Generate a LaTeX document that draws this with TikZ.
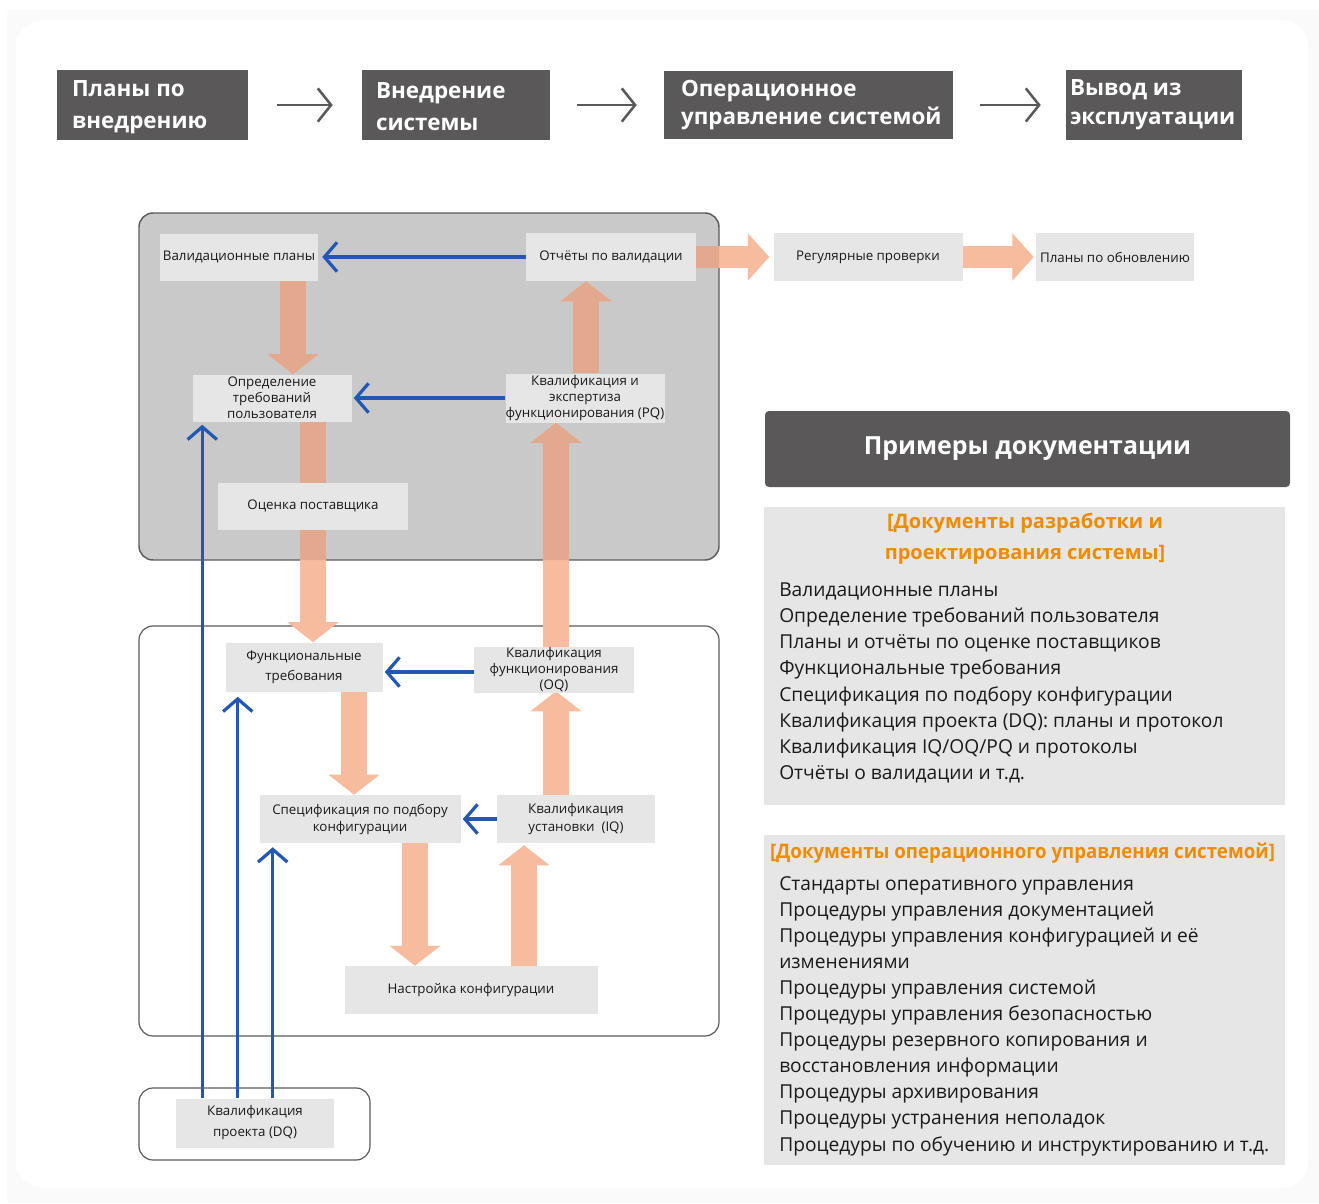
\documentclass[tikz,border=0pt]{standalone}
\usepackage{fontspec}
\setmainfont{Open Sans}
\usepackage{graphicx}
\usetikzlibrary{arrows.meta,calc}
\pgfdeclarelayer{bg}
\pgfdeclarelayer{arr}
\pgfsetlayers{bg,arr,main}
\definecolor{hdr}{HTML}{5A5858}
\definecolor{boxg}{HTML}{E6E6E6}
\definecolor{grayarea}{HTML}{C9C9C9}
\definecolor{orl}{HTML}{F7BB9E}
\definecolor{ord}{HTML}{E2A98F}
\definecolor{blu}{HTML}{2257B4}
\definecolor{ttl}{HTML}{F08C00}
\definecolor{txt}{HTML}{1A1A1A}
\definecolor{frame}{HTML}{5C5C5C}
\newcommand\myoarrows{%
\draw[oarrow] ($(vp.south)+(54,0)$) -- ($(otp.north)+(21,0)$);
\draw[oarrow] ($(otp.south)+(41,0)$) -- ($(ft.north)+(9,0)$);
\draw[oarrow] ($(ft.south)+(50,0)$) -- ($(sp.north)+(-6,0)$);
\draw[oarrow] ($(sp.south)+(55,0)$) -- ($(nk.north)+(-56,0)$);
\draw[oarrow] ($(nk.north)+(53,0)$) -- ($(iq.south)+(-52,2)$);
\draw[oarrow] ($(iq.north)+(-20,0)$) -- ($(oq.south)+(2,-2)$);
\draw[oarrow] ($(oq.north)+(2,0)$) -- ($(pq.south)+(-29,0)$);
\draw[oarrow] ($(pq.north)+(1,0)$) -- ($(ov.south)+(-25,0)$);
\draw[harrow] (ov.east) -- ($(rp.west)+(-4,0)$);
\draw[harrow] (rp.east) -- ($(po.west)+(-2,0)$);
}
\begin{document}
\begin{tikzpicture}[x=0.75pt,y=-0.75pt,
 hbox/.style={fill=hdr, inner sep=0pt},
 htext/.style={text=white, anchor=west, align=left, inner sep=0pt},
 gbox/.style={fill=boxg, text=txt, inner sep=0pt, align=center, font=\fontsize{10}{12}\selectfont},
 oarrow/.style={line width=19.5pt, -{Triangle[length=15pt,width=37.5pt]}},
 harrow/.style={line width=16.5pt, -{Triangle[length=16pt,width=34.5pt]}},
 barrow/.style={draw=blu, line width=2.4pt, -{Straight Barb[length=9.5pt,width=22pt]}},
 garrow/.style={draw=hdr, line width=1.9pt, -{Straight Barb[length=10pt,width=25pt]}},
 item/.style={anchor=base west, inner sep=0pt, text=txt, font=\fontsize{14.4}{17}\selectfont},
 ttitle/.style={anchor=base, inner sep=0pt, text=ttl, font=\bfseries\fontsize{15}{18}\selectfont},
 ]
\useasboundingbox (0,0) rectangle (1319,1203);

\begin{pgfonlayer}{bg}
\fill[white] (0,0) rectangle (1319,1203);
\fill[black!2] (7,10) rectangle (1319,1203);
\fill[white, rounded corners=20pt] (16,20) rectangle (1308,1188);
% containers
\draw[fill=grayarea, draw=frame, line width=1.1pt, rounded corners=10.5pt] (139,213) rectangle (719,560);
\draw[fill=white, draw=frame, line width=0.9pt, rounded corners=10.5pt] (139,626) rectangle (719,1036);
\draw[fill=white, draw=frame, line width=0.9pt, rounded corners=10.5pt] (139,1088) rectangle (370,1160);
% right panels
\fill[boxg] (764,507) rectangle (1285,805);
\fill[boxg] (764,835) rectangle (1285,1165);
\end{pgfonlayer}

% header
\node[hbox, minimum width=143.25pt, minimum height=52.5pt] (h1) at (152.5,105) {};
\node[hbox, minimum width=141pt, minimum height=52.5pt] (h2) at (456,105) {};
\node[hbox, minimum width=216.75pt, minimum height=51pt] (h3) at (808.5,105) {};
\node[hbox, minimum width=132pt, minimum height=52.5pt] (h4) at (1154,105) {};
\node[htext, font=\bfseries\fontsize{16.8}{24}\selectfont] (h1t) at ($(h1.west)+(15,2)$) {Планы по\\внедрению};
\node[htext, font=\bfseries\fontsize{16.8}{24}\selectfont] (h2t) at ($(h2.west)+(14,2)$) {Внедрение\\системы};
\node[htext, font=\bfseries\fontsize{16.8}{21}\selectfont] (h3t) at ($(h3.west)+(17,0)$) {Операционное\\управление системой};
\node[htext, font=\bfseries\fontsize{16.8}{21.5}\selectfont] (h4t) at ($(h4.west)+(4,0)$) {Вывод из\\эксплуатации};
\draw[garrow] ($(h1.east)+(29,0)$) -- ($(h2.west)+(-29,0)$);
\draw[garrow] ($(h2.east)+(27,0)$) -- ($(h3.west)+(-27,0)$);
\draw[garrow] ($(h3.east)+(27,0)$) -- ($(h4.west)+(-25,0)$);

% process nodes
\node[gbox, minimum width=118.5pt, minimum height=35.25pt] (vp) at (239,257) {Валидационные планы};
\node[gbox, minimum width=127.5pt, minimum height=36pt] (ov) at (611,257) {Отчёты по валидации};
\node[gbox, minimum width=119.25pt, minimum height=35.25pt] (otp) at (272,398) {Определение\\требований\\пользователя};
\node[gbox, minimum width=119.25pt, minimum height=36.75pt] (pq) at (585,398) {Квалификация и\\экспертиза\\функционирования (PQ)};
\node[gbox, minimum width=142.5pt, minimum height=35.25pt] (op) at (313,506) {Оценка поставщика};
\node[gbox, minimum width=141.75pt, minimum height=36pt] (rp) at (868,257) {Регулярные проверки};
\node[gbox, minimum width=118.5pt, minimum height=36pt] (po) at (1115,257) {Планы по обновлению};
\node[gbox, minimum width=117.75pt, minimum height=36.75pt, font=\fontsize{10}{15}\selectfont] (ft) at (304,667) {Функциональные\\требования};
\node[gbox, minimum width=120pt, minimum height=34.5pt] (oq) at (554,670) {Квалификация\\функционирования\\(OQ)};
\node[gbox, minimum width=150.75pt, minimum height=36pt, font=\fontsize{10}{12.75}\selectfont] (sp) at (360,819) {Спецификация по подбору\\конфигурации};
\node[gbox, minimum width=118.5pt, minimum height=36pt, font=\fontsize{10}{13.5}\selectfont] (iq) at (576,819) {Квалификация\\установки~~(IQ)};
\node[gbox, minimum width=189.75pt, minimum height=36pt] (nk) at (471,990) {Настройка конфигурации};
\node[gbox, minimum width=118.5pt, minimum height=36.75pt, font=\fontsize{10}{15.75}\selectfont] (dq) at (255,1123) {Квалификация\\проекта (DQ)};

% orange block arrows
\begin{pgfonlayer}{arr}
\begin{scope}[color=orl]
\myoarrows
\end{scope}
\begin{scope}
\clip[rounded corners=10.5pt] (139,213) rectangle (719,560);
\begin{scope}[color=ord]
\myoarrows
\end{scope}
\end{scope}
\end{pgfonlayer}

% blue arrows
\draw[barrow] (ov.west) -- ($(vp.east)+(4,0)$);
\draw[barrow] (pq.west) -- ($(otp.east)+(2,0)$);
\draw[barrow] ($(oq.west)+(0,2)$) -- ($(ft.east)+(2,5)$);
\draw[barrow] (iq.west) -- ($(sp.east)+(2,0)$);
\draw[barrow] ($(dq.north west)+(26.5,0)$) -- ($(otp.south west)+(10,3)$);
\draw[barrow] ($(dq.north west)+(62,0)$) -- ($(ft.south west)+(12.5,5)$);
\draw[barrow] ($(dq.north west)+(97,0)$) -- ($(sp.south west)+(13.5,4)$);

% right side
\node[fill=hdr, rounded corners=3pt, minimum width=393.75pt, minimum height=57pt, text=white, font=\bfseries\fontsize{18.7}{22}\selectfont] (pd) at (1027.5,449) {Примеры документации};

\node[ttitle] (t1a) at (1025,528) {{[}Документы разработки и};
\node[ttitle] (t1b) at (1025,559) {проектирования системы{]}};
\foreach \t [count=\i from 0] in {Валидационные планы,
Определение требований пользователя,
Планы и отчёты по оценке поставщиков,
Функциональные требования,
Спецификация по подбору конфигурации,
Квалификация проекта (DQ): планы и протокол,
Квалификация IQ/OQ/PQ и протоколы,
Отчёты о валидации и т.д.}
 \node[item] (pa\i) at (779,{596+26.25*\i}) {\t};

\node[ttitle] (t2) at (1022.5,858) {\resizebox{378.75pt}{\height}{{[}Документы операционного управления системой{]}}};
\foreach \t [count=\i from 0] in {Стандарты оперативного управления,
Процедуры управления документацией,
Процедуры управления конфигурацией и её,
изменениями,
Процедуры управления системой,
Процедуры управления безопасностью,
Процедуры резервного копирования и,
восстановления информации,
Процедуры архивирования,
Процедуры устранения неполадок,
Процедуры по обучению и инструктированию и т.д.}
 \node[item] (pb\i) at (779,{890+26.1*\i}) {\t};
\end{tikzpicture}
\end{document}
